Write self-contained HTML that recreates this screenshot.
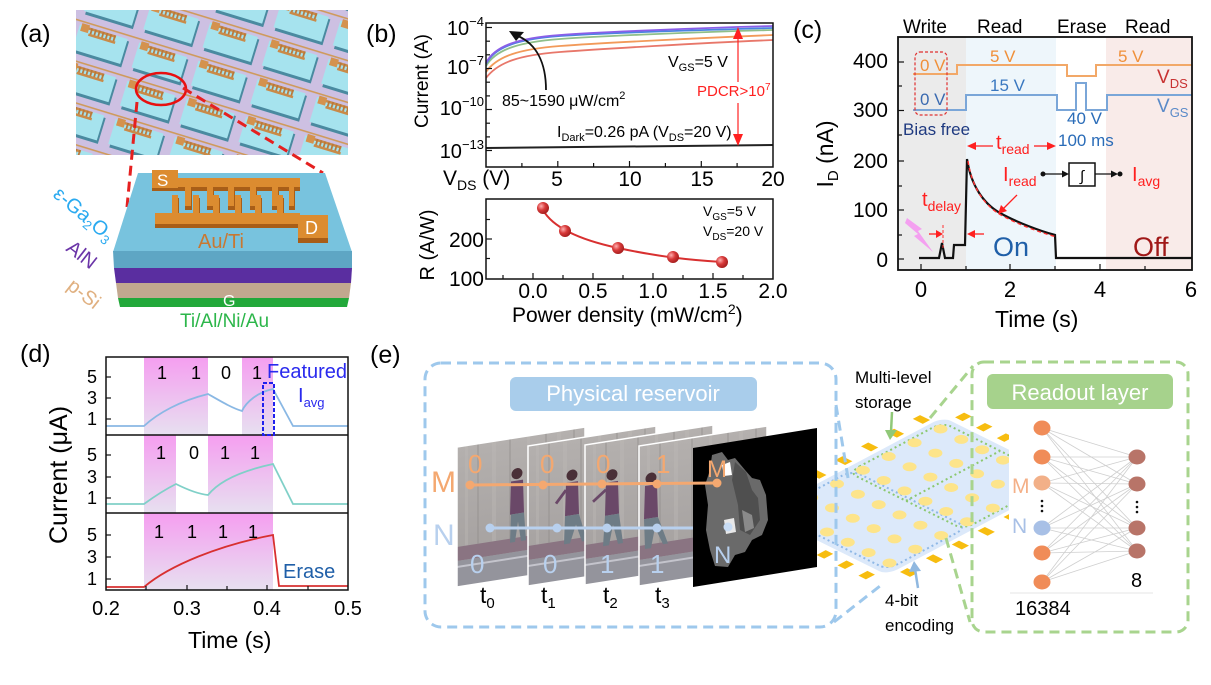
<!DOCTYPE html>
<html><head><meta charset="utf-8">
<style>
html,body{margin:0;padding:0;background:#fff;}
svg{display:block;}
text{font-family:"Liberation Sans",Arial,sans-serif;}
</style></head><body>
<svg width="1211" height="685" viewBox="0 0 1211 685" xmlns="http://www.w3.org/2000/svg" font-family="Liberation Sans, Arial, sans-serif">
<defs>
 <pattern id="tiles" width="62" height="40" patternUnits="userSpaceOnUse" patternTransform="translate(80,14) rotate(17)">
  <rect width="62" height="40" fill="#cdc0e2"/>
  <rect x="5" y="12" width="50" height="27" fill="#4a8aa0"/>
  <rect x="3" y="10" width="50" height="26" fill="#a6e3ee"/>
  <rect x="0" y="5.5" width="62" height="1.6" fill="#cf9a5c"/>
  <rect x="5" y="8" width="8" height="8" fill="#d4924e"/>
  <rect x="13" y="10" width="28" height="2.5" fill="#c98a48"/>
  <g fill="#b9783a"><rect x="15" y="10" width="1.8" height="7"/><rect x="19" y="10" width="1.8" height="7"/><rect x="23" y="10" width="1.8" height="7"/><rect x="27" y="10" width="1.8" height="7"/><rect x="31" y="10" width="1.8" height="7"/><rect x="35" y="10" width="1.8" height="7"/><rect x="39" y="10" width="1.8" height="7"/></g>
  <rect x="14" y="16" width="28" height="2.5" fill="#c98a48"/>
 </pattern>
 <linearGradient id="pg" x1="0" y1="0" x2="0" y2="1">
  <stop offset="0" stop-color="#f59ef0"/><stop offset="1" stop-color="#e7e0f0"/>
 </linearGradient>
 <linearGradient id="wall" x1="0" y1="0" x2="0" y2="1">
  <stop offset="0" stop-color="#b4b0ae"/><stop offset="1" stop-color="#a29e9d"/>
 </linearGradient>
 <radialGradient id="ball" cx="0.35" cy="0.35" r="0.75">
  <stop offset="0" stop-color="#ffb0b0"/><stop offset="0.45" stop-color="#d83a3a"/><stop offset="1" stop-color="#9a1818"/>
 </radialGradient>
 <clipPath id="chipclip"><rect x="700" y="380" width="309" height="230"/></clipPath>
 <g id="ph">
  <rect width="128" height="140" fill="url(#wall)"/>
  <g opacity="0.35">
   <rect x="8" width="3" height="100" fill="#c0bcb9"/><rect x="20" width="2" height="100" fill="#8f8b89"/>
   <rect x="35" width="4" height="100" fill="#c0bcb9"/><rect x="52" width="2" height="100" fill="#8f8b89"/>
   <rect x="70" width="3" height="100" fill="#c0bcb9"/><rect x="88" width="2" height="100" fill="#8f8b89"/>
   <rect x="100" width="4" height="100" fill="#c0bcb9"/><rect x="116" width="2" height="100" fill="#8f8b89"/>
  </g>
  <rect y="100" width="128" height="14" fill="#8a7482"/>
  <rect y="114" width="128" height="26" fill="#94949c"/>
  <rect y="119" width="128" height="2" fill="#c4c4cc"/>
 </g>
</defs>
<rect width="1211" height="685" fill="#fff"/>

<!-- ================= (a) ================= -->
<text x="20" y="42" font-size="25">(a)</text>
<rect x="76" y="10" width="272" height="145" fill="url(#tiles)"/>
<ellipse cx="161" cy="89" rx="25" ry="16" fill="none" stroke="#e81010" stroke-width="2.5"/>
<line x1="137" y1="102" x2="127" y2="207" stroke="#e52020" stroke-width="3" stroke-dasharray="10,6"/>
<line x1="183" y1="88" x2="323" y2="173" stroke="#e52020" stroke-width="3" stroke-dasharray="10,6"/>
<!-- device -->
<polygon points="138,173 325,173 352,252 113,252" fill="#78c3de"/>
<polygon points="113,251 352,251 352,268 114,268" fill="#5ea6c4"/>
<polygon points="114,268 352,268 351,283 116,283" fill="#5a2ea0"/>
<polygon points="116,283 351,283 349,298 118,298" fill="#c2a88f"/>
<polygon points="118,298 349,298 347,307 120,307" fill="#22a83a"/>
<g fill="#a85e18">
 <rect x="152" y="173" width="26" height="18"/><rect x="178" y="181" width="122" height="10"/>
 <rect x="185" y="190" width="7" height="20"/><rect x="207" y="190" width="7" height="20"/><rect x="228" y="190" width="7" height="20"/><rect x="250" y="190" width="7" height="20"/><rect x="272" y="190" width="7" height="20"/><rect x="289" y="190" width="6" height="20"/>
 <rect x="155" y="216" width="145" height="12"/>
 <rect x="172" y="198" width="7" height="20"/><rect x="193" y="198" width="7" height="20"/><rect x="213" y="198" width="7" height="20"/><rect x="235" y="198" width="7" height="20"/><rect x="255" y="198" width="7" height="20"/><rect x="277" y="198" width="7" height="20"/>
 <rect x="298" y="218" width="30" height="25"/>
</g>
<g fill="#dc8c30">
 <rect x="152" y="170" width="26" height="18"/><rect x="178" y="178" width="122" height="9"/>
 <rect x="185" y="187" width="6" height="19"/><rect x="207" y="187" width="6" height="19"/><rect x="228" y="187" width="6" height="19"/><rect x="250" y="187" width="6" height="19"/><rect x="272" y="187" width="6" height="19"/><rect x="289" y="187" width="5" height="19"/>
 <rect x="155" y="213" width="145" height="11"/>
 <rect x="172" y="195" width="6" height="19"/><rect x="193" y="195" width="6" height="19"/><rect x="213" y="195" width="6" height="19"/><rect x="235" y="195" width="6" height="19"/><rect x="255" y="195" width="6" height="19"/><rect x="277" y="195" width="6" height="19"/>
 <rect x="298" y="215" width="30" height="23"/>
</g>
<text x="157" y="186" font-size="17" fill="#fff">S</text>
<text x="305" y="234" font-size="18" fill="#fff">D</text>
<text x="198" y="248" font-size="20" fill="#c87832">Au/Ti</text>
<text x="223" y="306" font-size="16" fill="#fff">G</text>
<text x="180" y="327" font-size="19" fill="#2cb64a">Ti/Al/Ni/Au</text>
<text transform="translate(52,196) rotate(40)" font-size="20" fill="#2aaaf0">ε-Ga<tspan font-size="13" dy="4">2</tspan><tspan dy="-4">O</tspan><tspan font-size="13" dy="4">3</tspan></text>
<text transform="translate(65,250) rotate(38)" font-size="20" fill="#6b35a8">AlN</text>
<text transform="translate(66,288) rotate(38)" font-size="20" fill="#e0b080">p-Si</text>

<!-- ================= (b) ================= -->
<text x="366" y="42" font-size="25">(b)</text>
<g fill="none" stroke-width="1.8">
 <path d="M486,78 C498,62 520,55 560,52 S700,43 773,40" stroke="#e8776a"/>
 <path d="M486,72 C497,56 520,49 560,46 S700,38 773,35" stroke="#f29a5a"/>
 <path d="M486,66 C496,49 520,42 560,39 S700,32 773,30" stroke="#8fbf8a"/>
 <path d="M486,64 C495,46 520,39 560,36 S700,30 773,28" stroke="#4a84e0"/>
 <path d="M486,63 C495,45 520,38 560,35 S700,28 773,26" stroke="#8a5ee8"/>
</g>
<path d="M486,148 L773,145" stroke="#222" stroke-width="2" fill="none"/>
<rect x="486" y="23" width="287" height="144" fill="none" stroke="#111" stroke-width="1.5"/>
<g stroke="#111" stroke-width="1.2">
 <line x1="486" y1="27.5" x2="492" y2="27.5"/><line x1="486" y1="41.2" x2="490" y2="41.2"/><line x1="486" y1="54.8" x2="490" y2="54.8"/><line x1="486" y1="68.5" x2="492" y2="68.5"/><line x1="486" y1="82.2" x2="490" y2="82.2"/><line x1="486" y1="95.9" x2="490" y2="95.9"/><line x1="486" y1="109.5" x2="492" y2="109.5"/><line x1="486" y1="123.2" x2="490" y2="123.2"/><line x1="486" y1="136.9" x2="490" y2="136.9"/><line x1="486" y1="150.5" x2="492" y2="150.5"/>
 <line x1="521.9" y1="167" x2="521.9" y2="163"/><line x1="557.8" y1="167" x2="557.8" y2="161"/><line x1="593.6" y1="167" x2="593.6" y2="163"/><line x1="629.5" y1="167" x2="629.5" y2="161"/><line x1="665.4" y1="167" x2="665.4" y2="163"/><line x1="701.3" y1="167" x2="701.3" y2="161"/><line x1="737.1" y1="167" x2="737.1" y2="163"/>
</g>
<g font-size="20" text-anchor="end">
 <text x="484" y="35">10<tspan dy="-9" font-size="13">−4</tspan></text>
 <text x="484" y="74">10<tspan dy="-9" font-size="13">−7</tspan></text>
 <text x="484" y="115">10<tspan dy="-9" font-size="13">−10</tspan></text>
 <text x="484" y="158">10<tspan dy="-9" font-size="13">−13</tspan></text>
</g>
<text transform="translate(428,81) rotate(-90)" font-size="19" text-anchor="middle">Current (A)</text>
<text x="443" y="185" font-size="21">V<tspan font-size="14" dy="5">DS</tspan><tspan dy="-5"> (V)</tspan></text>
<g font-size="21" text-anchor="middle">
 <text x="557" y="186">5</text><text x="630" y="186">10</text><text x="702" y="186">15</text><text x="773" y="186">20</text>
</g>
<path d="M546,90 C546,62 536,44 518,36" fill="none" stroke="#111" stroke-width="1.8"/>
<polygon points="509,31 524,32 516,41" fill="#111"/>
<text x="502" y="106" font-size="16">85~1590 μW/cm<tspan dy="-7" font-size="11">2</tspan></text>
<text x="668" y="67" font-size="16">V<tspan font-size="11" dy="4">GS</tspan><tspan dy="-4">=5 V</tspan></text>
<g stroke="#ff2020" stroke-width="1.2"><line x1="738" y1="36" x2="738" y2="82"/><line x1="738" y1="103" x2="738" y2="137"/></g>
<polygon points="738,27 733,39 743,39" fill="#ff2020"/>
<polygon points="738,146 733,134 743,134" fill="#ff2020"/>
<text x="697" y="96" font-size="15" fill="#ff2020">PDCR&gt;10<tspan dy="-6" font-size="10">7</tspan></text>
<text x="557" y="137" font-size="16">I<tspan font-size="11" dy="4">Dark</tspan><tspan dy="-4">=0.26 pA (V</tspan><tspan font-size="11" dy="4">DS</tspan><tspan dy="-4">=20 V)</tspan></text>
<rect x="486" y="199" width="287" height="80" fill="none" stroke="#111" stroke-width="1.5"/>
<g stroke="#111" stroke-width="1.2">
 <line x1="486" y1="219.5" x2="490" y2="219.5"/><line x1="486" y1="239" x2="492" y2="239"/><line x1="486" y1="258.5" x2="490" y2="258.5"/>
 <line x1="503" y1="279" x2="503" y2="275"/><line x1="533" y1="279" x2="533" y2="273"/><line x1="563" y1="279" x2="563" y2="275"/><line x1="593" y1="279" x2="593" y2="273"/><line x1="623" y1="279" x2="623" y2="275"/><line x1="653" y1="279" x2="653" y2="273"/><line x1="683" y1="279" x2="683" y2="275"/><line x1="713" y1="279" x2="713" y2="273"/><line x1="743" y1="279" x2="743" y2="275"/>
</g>
<path d="M543,210 C552,226 576,239 618,248 S690,260 722,262" fill="none" stroke="#d83030" stroke-width="2"/>
<g fill="url(#ball)">
 <circle cx="543" cy="208" r="6"/><circle cx="565" cy="231" r="6"/><circle cx="618" cy="248" r="6"/><circle cx="673" cy="257" r="6"/><circle cx="722" cy="262" r="6"/>
</g>
<g font-size="21" text-anchor="end"><text x="484" y="247">200</text><text x="484" y="286">100</text></g>
<g font-size="21" text-anchor="middle">
 <text x="533" y="298">0.0</text><text x="593" y="298">0.5</text><text x="653" y="298">1.0</text><text x="713" y="298">1.5</text><text x="773" y="298">2.0</text>
</g>
<text x="512" y="322" font-size="21">Power density (mW/cm<tspan dy="-8" font-size="14">2</tspan><tspan dy="8">)</tspan></text>
<text transform="translate(434,245) rotate(-90)" font-size="20" text-anchor="middle">R (A/W)</text>
<text x="703" y="216" font-size="14">V<tspan font-size="10" dy="4">GS</tspan><tspan dy="-4">=5 V</tspan></text>
<text x="703" y="236" font-size="14">V<tspan font-size="10" dy="4">DS</tspan><tspan dy="-4">=20 V</tspan></text>

<!-- ================= (c) ================= -->
<text x="793" y="38" font-size="25">(c)</text>
<rect x="898" y="37" width="68" height="233" fill="#ebebeb"/>
<rect x="966" y="37" width="90" height="233" fill="#eef6fb"/>
<rect x="1106" y="37" width="86" height="233" fill="#f9ebe9"/>
<g font-size="19">
 <text x="903" y="33">Write</text><text x="977" y="33">Read</text><text x="1057" y="33">Erase</text><text x="1125" y="33">Read</text>
</g>
<path d="M913,74 H957 V65 H1067 V76 H1096 V65 H1192" fill="none" stroke="#f2a868" stroke-width="2"/>
<path d="M913,110 H966 V95 H1057 V110 H1076 V83 H1086 V110 H1107 V95 H1192" fill="none" stroke="#7aa6d8" stroke-width="2"/>
<rect x="915" y="52" width="32" height="63" rx="5" fill="none" stroke="#e03030" stroke-width="1.2" stroke-dasharray="3,2"/>
<g font-size="17">
 <text x="920" y="71" fill="#f0903a">0 V</text>
 <text x="990" y="62" fill="#f0903a">5 V</text>
 <text x="1118" y="62" fill="#f0903a">5 V</text>
 <text x="920" y="105" fill="#3a6ab0">0 V</text>
 <text x="990" y="91" fill="#3a78c0">15 V</text>
 <text x="1067" y="124" fill="#2a6cb8">40 V</text>
 <text x="1058" y="146" fill="#2a6cb8">100 ms</text>
 <text x="903" y="135" fill="#1f3a80">Bias free</text>
</g>
<text x="1157" y="83" font-size="19" fill="#c83232">V<tspan font-size="13" dy="5">DS</tspan></text>
<text x="1157" y="112" font-size="19" fill="#5a8ac8">V<tspan font-size="13" dy="5">GS</tspan></text>
<path d="M919,258 H939 L942,243 L945,258 H953 L954,245 H965 L967,159 C971,186 984,204 1000,213 S1040,231 1055,235 L1056,258 H1192" fill="none" stroke="#111" stroke-width="2.2"/>
<path d="M968,161 C972,188 985,206 1001,215 S1041,233 1057,237" fill="none" stroke="#ff3030" stroke-width="1.4" stroke-dasharray="4,3"/>
<line x1="943" y1="225" x2="943" y2="249" stroke="#ff3030" stroke-width="1" stroke-dasharray="3,2"/>
<rect x="898" y="37" width="294" height="233" fill="none" stroke="#111" stroke-width="1.8"/>
<g stroke="#111" stroke-width="1.2">
 <line x1="898" y1="62" x2="904" y2="62"/><line x1="898" y1="86" x2="902" y2="86"/><line x1="898" y1="110.5" x2="904" y2="110.5"/><line x1="898" y1="135" x2="902" y2="135"/><line x1="898" y1="161" x2="904" y2="161"/><line x1="898" y1="186" x2="902" y2="186"/><line x1="898" y1="210" x2="904" y2="210"/><line x1="898" y1="235" x2="902" y2="235"/><line x1="898" y1="259" x2="904" y2="259"/>
 <line x1="921" y1="270" x2="921" y2="264"/><line x1="966" y1="270" x2="966" y2="266"/><line x1="1010" y1="270" x2="1010" y2="264"/><line x1="1055" y1="270" x2="1055" y2="266"/><line x1="1100" y1="270" x2="1100" y2="264"/><line x1="1145" y1="270" x2="1145" y2="266"/>
</g>
<g font-size="21" text-anchor="end">
 <text x="888" y="68">400</text><text x="888" y="117">300</text><text x="888" y="168">200</text><text x="888" y="217">100</text><text x="888" y="267">0</text>
</g>
<g font-size="22" text-anchor="middle">
 <text x="921" y="297">0</text><text x="1010" y="297">2</text><text x="1100" y="297">4</text><text x="1191" y="297">6</text>
</g>
<text x="995" y="327" font-size="23">Time (s)</text>
<text transform="translate(833,154) rotate(-90)" font-size="23" text-anchor="middle">I<tspan font-size="15" dy="5">D</tspan><tspan dy="-5"> (nA)</tspan></text>
<g stroke="#ff2020" stroke-width="1.3" fill="none">
 <line x1="975" y1="146" x2="993" y2="146"/><line x1="1034" y1="146" x2="1049" y2="146"/>
 <line x1="929" y1="234" x2="938" y2="234"/><line x1="974" y1="234" x2="984" y2="234"/>
 <line x1="1017" y1="195" x2="1003" y2="209"/>
</g>
<g fill="#ff2020">
 <polygon points="967,146 976,142 976,150"/><polygon points="1056,146 1047,142 1047,150"/>
 <polygon points="943,234 936,230 936,238"/><polygon points="967,234 975,230 975,238"/>
 <polygon points="998,214 1001,205 1007,211"/>
</g>
<text x="996" y="149" font-size="20" fill="#ff2020">t<tspan font-size="14" dy="5">read</tspan></text>
<text x="1003" y="181" font-size="20" fill="#ff2020">I<tspan font-size="14" dy="5">read</tspan></text>
<text x="922" y="206" font-size="20" fill="#ff2020">t<tspan font-size="14" dy="5">delay</tspan></text>
<text x="1132" y="181" font-size="20" fill="#ff2020">I<tspan font-size="14" dy="5">avg</tspan></text>
<circle cx="1043" cy="174" r="2.5" fill="#111"/>
<line x1="1043" y1="174" x2="1064" y2="174" stroke="#111" stroke-width="1.3"/>
<polygon points="1069,174 1062,170.5 1062,177.5" fill="#111"/>
<rect x="1069" y="163" width="26" height="23" fill="#fff" stroke="#111" stroke-width="1.5"/>
<text x="1082" y="181" font-size="15" text-anchor="middle">∫</text>
<line x1="1095" y1="174" x2="1113" y2="174" stroke="#111" stroke-width="1.3"/>
<polygon points="1118,174 1111,170.5 1111,177.5" fill="#111"/>
<circle cx="1120" cy="174" r="2.5" fill="#111"/>
<polygon points="907,218 922,229 918,231 933,252 914,236 918,234 905,223" fill="#f4a0f0"/>
<text x="993" y="256" font-size="27" fill="#1f5fa8">On</text>
<text x="1133" y="256" font-size="27" fill="#a01818">Off</text>

<!-- ================= (d) ================= -->
<text x="20" y="362" font-size="25">(d)</text>
<g fill="url(#pg)">
 <rect x="144" y="357" width="64" height="78"/><rect x="242" y="357" width="31" height="78"/>
 <rect x="144" y="435" width="32" height="78"/><rect x="208" y="435" width="65" height="78"/>
 <rect x="144" y="513" width="129" height="77"/>
</g>
<path d="M106,426 H144 C158,413 180,401 208,394 C222,402 232,408 242,411 C246,402 258,392 273,389 L293,426 H348" fill="none" stroke="#8ab8e4" stroke-width="1.8"/>
<path d="M106,504 H144 C155,496 166,489 176,484 C188,490 198,494 208,495 C220,480 245,470 273,464 L293,504 H348" fill="none" stroke="#80d0c8" stroke-width="1.8"/>
<path d="M106,587 H144 C170,565 220,545 273,535 L279,586 H348" fill="none" stroke="#d83030" stroke-width="1.8"/>
<rect x="106" y="357" width="242" height="233" fill="none" stroke="#111" stroke-width="1.5"/>
<line x1="106" y1="435" x2="348" y2="435" stroke="#111" stroke-width="1.5"/>
<line x1="106" y1="513" x2="348" y2="513" stroke="#111" stroke-width="1.5"/>
<g stroke="#111" stroke-width="1.2">
 <line x1="106" y1="377" x2="111" y2="377"/><line x1="106" y1="398" x2="111" y2="398"/><line x1="106" y1="419" x2="111" y2="419"/>
 <line x1="106" y1="455" x2="111" y2="455"/><line x1="106" y1="477" x2="111" y2="477"/><line x1="106" y1="498" x2="111" y2="498"/>
 <line x1="106" y1="535" x2="111" y2="535"/><line x1="106" y1="557" x2="111" y2="557"/><line x1="106" y1="579" x2="111" y2="579"/>
 <line x1="146" y1="590" x2="146" y2="586"/><line x1="187" y1="590" x2="187" y2="585"/><line x1="227" y1="590" x2="227" y2="586"/><line x1="267" y1="590" x2="267" y2="585"/><line x1="308" y1="590" x2="308" y2="586"/>
</g>
<g font-size="18" text-anchor="end">
 <text x="97" y="383">5</text><text x="97" y="404">3</text><text x="97" y="425">1</text>
 <text x="97" y="461">5</text><text x="97" y="483">3</text><text x="97" y="504">1</text>
 <text x="97" y="541">5</text><text x="97" y="563">3</text><text x="97" y="585">1</text>
</g>
<g font-size="18" text-anchor="middle">
 <text x="162" y="379">1</text><text x="196" y="379">1</text><text x="226" y="379">0</text><text x="257" y="379">1</text>
 <text x="161" y="459">1</text><text x="194" y="459">0</text><text x="225" y="459">1</text><text x="255" y="459">1</text>
 <text x="159" y="538">1</text><text x="192" y="538">1</text><text x="223" y="538">1</text><text x="253" y="538">1</text>
</g>
<text x="267" y="378" font-size="20" fill="#2a2aee">Featured</text>
<text x="298" y="402" font-size="20" fill="#2a2aee">I<tspan font-size="13" dy="5">avg</tspan></text>
<rect x="263" y="383" width="11" height="52" fill="none" stroke="#2020ee" stroke-width="2" stroke-dasharray="4,2"/>
<text x="283" y="578" font-size="20" fill="#1f5fa8">Erase</text>
<g font-size="20" text-anchor="middle">
 <text x="106" y="615">0.2</text><text x="187" y="615">0.3</text><text x="267" y="615">0.4</text><text x="348" y="615">0.5</text>
</g>
<text x="188" y="648" font-size="23">Time (s)</text>
<text transform="translate(67,475) rotate(-90)" font-size="25" text-anchor="middle">Current (μA)</text>

<!-- ================= (e) ================= -->
<text x="370" y="363" font-size="25">(e)</text>
<g clip-path="url(#chipclip)">
 <g transform="matrix(1.81,-0.96,1.25,0.62,762,513)">
  <rect x="0" y="0" width="100" height="100" rx="6" fill="#dce9fa"/>
  <g fill="#f7bd10">
   <rect x="5.1" y="-11" width="4" height="8"/><rect x="19.4" y="-11" width="4" height="8"/><rect x="33.7" y="-11" width="4" height="8"/><rect x="48" y="-11" width="4" height="8"/><rect x="62.3" y="-11" width="4" height="8"/><rect x="76.6" y="-11" width="4" height="8"/><rect x="90.9" y="-11" width="4" height="8"/>
   <rect x="5.1" y="103" width="4" height="8"/><rect x="19.4" y="103" width="4" height="8"/><rect x="33.7" y="103" width="4" height="8"/><rect x="48" y="103" width="4" height="8"/><rect x="62.3" y="103" width="4" height="8"/><rect x="76.6" y="103" width="4" height="8"/><rect x="90.9" y="103" width="4" height="8"/>
   <rect x="103" y="5.3" width="5" height="6"/><rect x="103" y="22" width="5" height="6"/><rect x="103" y="38.7" width="5" height="6"/><rect x="103" y="55.3" width="5" height="6"/><rect x="103" y="72" width="5" height="6"/><rect x="103" y="88.7" width="5" height="6"/>
   <rect x="-8" y="5.3" width="5" height="6"/><rect x="-8" y="22" width="5" height="6"/><rect x="-8" y="38.7" width="5" height="6"/><rect x="-8" y="55.3" width="5" height="6"/><rect x="-8" y="72" width="5" height="6"/><rect x="-8" y="88.7" width="5" height="6"/>
  </g>
  <rect x="3" y="4" width="44" height="92" rx="6" fill="none" stroke="#8fb8e6" stroke-width="2" stroke-dasharray="2,3" vector-effect="non-scaling-stroke"/>
  <rect x="45" y="4" width="52" height="92" rx="6" fill="none" stroke="#8cc870" stroke-width="2" stroke-dasharray="2,3" vector-effect="non-scaling-stroke"/>
  <line x1="45" y1="50" x2="97" y2="50" stroke="#8cc870" stroke-width="2" stroke-dasharray="2,3" vector-effect="non-scaling-stroke"/>
 </g>
 <g fill="#fde48a">
  <ellipse cx="785.3" cy="511.3" rx="7" ry="4.5"/><ellipse cx="811.2" cy="497.6" rx="7" ry="4.5"/><ellipse cx="837" cy="483.9" rx="7" ry="4.5"/><ellipse cx="862.9" cy="470.2" rx="7" ry="4.5"/><ellipse cx="888.7" cy="456.5" rx="7" ry="4.5"/><ellipse cx="914.6" cy="442.7" rx="7" ry="4.5"/><ellipse cx="940.5" cy="429" rx="7" ry="4.5"/>
  <ellipse cx="806.1" cy="521.6" rx="7" ry="4.5"/><ellipse cx="832" cy="507.9" rx="7" ry="4.5"/><ellipse cx="857.9" cy="494.2" rx="7" ry="4.5"/><ellipse cx="883.7" cy="480.5" rx="7" ry="4.5"/><ellipse cx="909.6" cy="466.8" rx="7" ry="4.5"/><ellipse cx="935.4" cy="453.1" rx="7" ry="4.5"/><ellipse cx="961.3" cy="439.4" rx="7" ry="4.5"/>
  <ellipse cx="827" cy="532" rx="7" ry="4.5"/><ellipse cx="852.8" cy="518.3" rx="7" ry="4.5"/><ellipse cx="878.7" cy="504.6" rx="7" ry="4.5"/><ellipse cx="904.5" cy="490.9" rx="7" ry="4.5"/><ellipse cx="930.4" cy="477.1" rx="7" ry="4.5"/><ellipse cx="956.3" cy="463.4" rx="7" ry="4.5"/><ellipse cx="982.1" cy="449.7" rx="7" ry="4.5"/>
  <ellipse cx="847.8" cy="542.3" rx="7" ry="4.5"/><ellipse cx="873.7" cy="528.6" rx="7" ry="4.5"/><ellipse cx="899.5" cy="514.9" rx="7" ry="4.5"/><ellipse cx="925.4" cy="501.2" rx="7" ry="4.5"/><ellipse cx="951.2" cy="487.5" rx="7" ry="4.5"/><ellipse cx="977.1" cy="473.8" rx="7" ry="4.5"/><ellipse cx="1003" cy="460.1" rx="7" ry="4.5"/>
  <ellipse cx="868.6" cy="552.6" rx="7" ry="4.5"/><ellipse cx="894.5" cy="538.9" rx="7" ry="4.5"/><ellipse cx="920.4" cy="525.2" rx="7" ry="4.5"/><ellipse cx="946.2" cy="511.5" rx="7" ry="4.5"/><ellipse cx="972.1" cy="497.8" rx="7" ry="4.5"/><ellipse cx="997.9" cy="484.1" rx="7" ry="4.5"/>
  <ellipse cx="889.5" cy="563" rx="7" ry="4.5"/><ellipse cx="915.3" cy="549.2" rx="7" ry="4.5"/><ellipse cx="941.2" cy="535.5" rx="7" ry="4.5"/><ellipse cx="967" cy="521.8" rx="7" ry="4.5"/><ellipse cx="992.9" cy="508.1" rx="7" ry="4.5"/>
 </g>
</g>
<rect x="425" y="363" width="411" height="264" rx="16" fill="none" stroke="#9ec8ec" stroke-width="3" stroke-dasharray="10,6"/>
<line x1="836" y1="405" x2="848" y2="478" stroke="#9ec8ec" stroke-width="3" stroke-dasharray="10,6"/>
<line x1="834" y1="622" x2="880" y2="586" stroke="#9ec8ec" stroke-width="3" stroke-dasharray="10,6"/>
<rect x="510" y="377" width="247" height="34" rx="6" fill="#a9cdeb"/>
<text x="633" y="401" font-size="22" fill="#fff" text-anchor="middle">Physical reservoir</text>
<g transform="translate(457,447) skewY(-8.9)">
 <use href="#ph"/>
 <circle cx="60" cy="36" r="5.5" fill="#4a3038"/><path d="M54,43 h12 l1,33 h-14 z" fill="#6a4868"/><path d="M54,76 h13 l2,28 h-5 l-3,-20 l-3,20 h-5 z" fill="#6e7c86"/>
 <rect width="128" height="140" fill="none" stroke="#fff" stroke-width="1.5"/>
</g>
<g transform="translate(528,446) skewY(-8.9)">
 <use href="#ph"/>
 <circle cx="44" cy="36" r="5.5" fill="#4a3038"/><path d="M38,43 h12 l1,33 h-14 z" fill="#6a4868"/><path d="M37,76 h14 l8,28 h-5 l-6,-18 l-6,18 h-6 z" fill="#6e7c86"/><line x1="38" y1="50" x2="28" y2="62" stroke="#6a4868" stroke-width="3"/>
 <rect width="128" height="140" fill="none" stroke="#fff" stroke-width="1.5"/>
</g>
<g transform="translate(585,445) skewY(-8.9)">
 <use href="#ph"/>
 <circle cx="27" cy="34" r="5.5" fill="#4a3038"/><path d="M21,41 h12 l1,33 h-14 z" fill="#6a4868"/><path d="M20,74 h14 l4,30 h-5 l-5,-20 l-4,20 h-6 z" fill="#6e7c86"/><line x1="21" y1="48" x2="8" y2="58" stroke="#6a4868" stroke-width="3"/>
 <rect width="128" height="140" fill="none" stroke="#fff" stroke-width="1.5"/>
</g>
<g transform="translate(639,446) skewY(-8.9)">
 <use href="#ph"/>
 <circle cx="12" cy="34" r="5.5" fill="#4a3038"/><path d="M6,41 h12 l1,33 h-14 z" fill="#6a4868"/><path d="M5,74 h14 l10,28 h-5 l-8,-18 l-4,20 h-6 z" fill="#6e7c86"/>
 <rect width="128" height="140" fill="none" stroke="#fff" stroke-width="1.5"/>
</g>
<polygon points="693,448 817,428 817,567 693,587" fill="#000"/>
<path d="M712,455 L722,452 L728,460 L735,458 L745,470 L752,478 L760,480 L766,495 L768,520 L762,535 L752,540 L745,552 L735,555 L728,567 L715,566 L710,550 L706,530 L708,505 L705,485 L710,470 Z" fill="#6a6a6a"/>
<path d="M735,462 L746,472 L752,490 L758,498 L760,520 L750,535 L740,530 L738,505 L732,480 Z" fill="#4f4f4f"/>
<path d="M742,510 L752,515 L754,528 L745,532 Z" fill="#8a8a8a"/>
<path d="M722,465 L730,462 L732,475 L724,476 Z" fill="#fff"/>
<path d="M724,520 L734,518 L736,532 L726,534 Z" fill="#e8e8e8"/>
<line x1="470" y1="485" x2="717" y2="483" stroke="#f4a870" stroke-width="3"/>
<line x1="490" y1="528" x2="693" y2="528" stroke="#b8d0ee" stroke-width="3"/>
<g fill="#f4a870"><circle cx="470" cy="485" r="4.5"/><circle cx="543" cy="485" r="4.5"/><circle cx="602" cy="484" r="4.5"/><circle cx="657" cy="484" r="4.5"/><circle cx="717" cy="483" r="4.5"/></g>
<g fill="#b8d0ee"><circle cx="490" cy="528" r="4.5"/><circle cx="557" cy="528" r="4.5"/><circle cx="607" cy="528" r="4.5"/><circle cx="657" cy="528" r="4.5"/><circle cx="728" cy="527" r="4.5" fill="#c8dcf4"/></g>
<g font-size="26" fill="#f4a870">
 <text x="468" y="473">0</text><text x="540" y="473">0</text><text x="596" y="473">0</text><text x="656" y="473">1</text>
</g>
<g font-size="26" fill="#b8d0ee">
 <text x="470" y="573">0</text><text x="543" y="573">0</text><text x="600" y="573">1</text><text x="650" y="573">1</text>
</g>
<text x="431" y="492" font-size="30" fill="#f4a870">M</text>
<text x="433" y="545" font-size="30" fill="#b8d0ee">N</text>
<text x="707" y="477" font-size="24" fill="#f4a870">M</text>
<text x="714" y="563" font-size="24" fill="#b8d0ee">N</text>
<g font-size="23">
 <text x="480" y="603">t<tspan font-size="15" dy="5">0</tspan></text>
 <text x="541" y="603">t<tspan font-size="15" dy="5">1</tspan></text>
 <text x="603" y="603">t<tspan font-size="15" dy="5">2</tspan></text>
 <text x="655" y="603">t<tspan font-size="15" dy="5">3</tspan></text>
</g>
<text x="855" y="383" font-size="17">Multi-level</text>
<text x="855" y="408" font-size="17">storage</text>
<line x1="892" y1="412" x2="891" y2="432" stroke="#90c878" stroke-width="2.5"/>
<polygon points="890,440 885,430 897,430" fill="#90c878"/>
<text x="885" y="606" font-size="17">4-bit</text>
<text x="885" y="631" font-size="17">encoding</text>
<line x1="918" y1="588" x2="915" y2="569" stroke="#90b8e0" stroke-width="2.5"/>
<polygon points="914,561 909,572 921,571" fill="#90b8e0"/>
<rect x="972" y="362" width="216" height="270" rx="12" fill="none" stroke="#a8d48e" stroke-width="3" stroke-dasharray="10,6"/>
<line x1="930" y1="418" x2="973" y2="366" stroke="#a8d48e" stroke-width="3" stroke-dasharray="10,6"/>
<line x1="946" y1="538" x2="970" y2="622" stroke="#a8d48e" stroke-width="3" stroke-dasharray="10,6"/>
<rect x="987" y="374" width="186" height="35" rx="6" fill="#a6d28c"/>
<text x="1080" y="400" font-size="22" fill="#fff" text-anchor="middle">Readout layer</text>
<g stroke="#cfcfcf" stroke-width="0.8">
 <line x1="1042" y1="428" x2="1137" y2="457"/><line x1="1042" y1="428" x2="1137" y2="484"/><line x1="1042" y1="428" x2="1137" y2="528"/><line x1="1042" y1="428" x2="1137" y2="551"/>
 <line x1="1042" y1="457" x2="1137" y2="457"/><line x1="1042" y1="457" x2="1137" y2="484"/><line x1="1042" y1="457" x2="1137" y2="528"/><line x1="1042" y1="457" x2="1137" y2="551"/>
 <line x1="1042" y1="483" x2="1137" y2="457"/><line x1="1042" y1="483" x2="1137" y2="484"/><line x1="1042" y1="483" x2="1137" y2="528"/><line x1="1042" y1="483" x2="1137" y2="551"/>
 <line x1="1042" y1="528" x2="1137" y2="457"/><line x1="1042" y1="528" x2="1137" y2="484"/><line x1="1042" y1="528" x2="1137" y2="528"/><line x1="1042" y1="528" x2="1137" y2="551"/>
 <line x1="1042" y1="553" x2="1137" y2="457"/><line x1="1042" y1="553" x2="1137" y2="484"/><line x1="1042" y1="553" x2="1137" y2="528"/><line x1="1042" y1="553" x2="1137" y2="551"/>
 <line x1="1042" y1="582" x2="1137" y2="457"/><line x1="1042" y1="582" x2="1137" y2="484"/><line x1="1042" y1="582" x2="1137" y2="528"/><line x1="1042" y1="582" x2="1137" y2="551"/>
</g>
<g fill="#f08c58">
 <ellipse cx="1042" cy="428" rx="8.5" ry="7.5"/><ellipse cx="1042" cy="457" rx="8.5" ry="7.5"/><ellipse cx="1042" cy="483" rx="8.5" ry="7.5" fill="#f2b088"/><ellipse cx="1042" cy="528" rx="8.5" ry="7.5" fill="#a8c0e6"/><ellipse cx="1042" cy="553" rx="8.5" ry="7.5"/><ellipse cx="1042" cy="582" rx="8.5" ry="7.5"/>
</g>
<g fill="#b87468">
 <ellipse cx="1137" cy="457" rx="8.5" ry="7.5"/><ellipse cx="1137" cy="484" rx="8.5" ry="7.5"/><ellipse cx="1137" cy="528" rx="8.5" ry="7.5"/><ellipse cx="1137" cy="551" rx="8.5" ry="7.5"/>
</g>
<g fill="#111">
 <circle cx="1042" cy="501" r="1.3"/><circle cx="1042" cy="506" r="1.3"/><circle cx="1042" cy="511" r="1.3"/>
 <circle cx="1137" cy="502" r="1.3"/><circle cx="1137" cy="507" r="1.3"/><circle cx="1137" cy="512" r="1.3"/>
</g>
<text x="1012" y="493" font-size="21" fill="#f4b088">M</text>
<text x="1012" y="533" font-size="21" fill="#a8c0e6">N</text>
<line x1="1010" y1="593" x2="1153" y2="593" stroke="#e4e4e4" stroke-width="1"/>
<text x="1015" y="615" font-size="20">16384</text>
<text x="1131" y="587" font-size="20">8</text>
</svg>
</body></html>
